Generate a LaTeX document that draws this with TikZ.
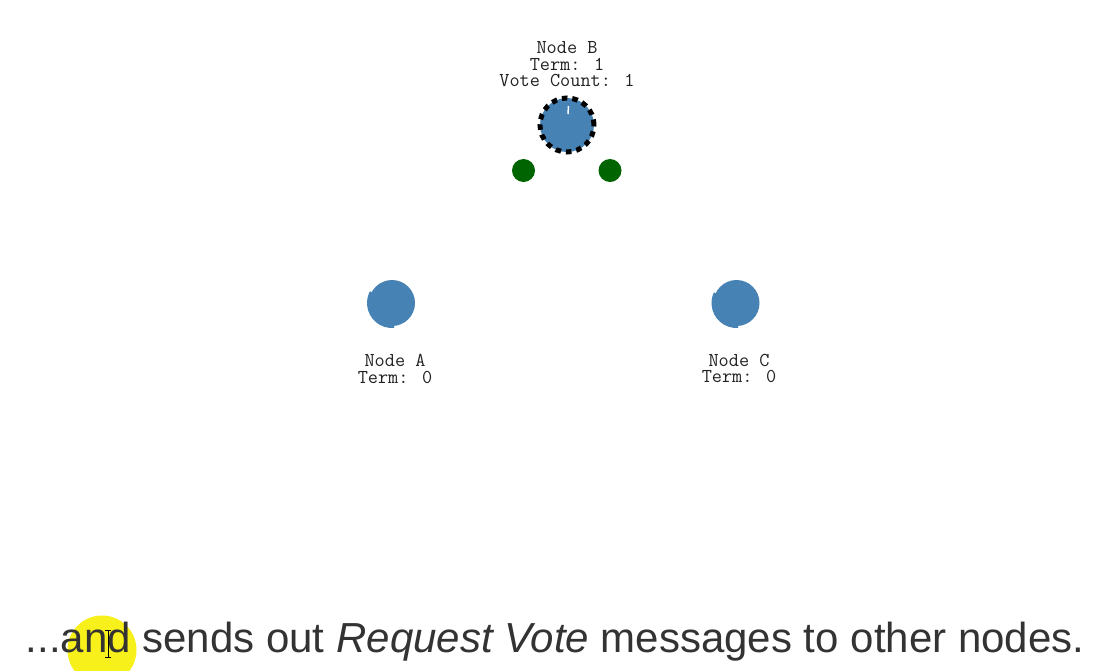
\documentclass[tikz,border=0pt]{standalone}
\usepackage{fontspec}
\newfontfamily\arialf{Liberation Sans}
\definecolor{nodeblue}{HTML}{4682B4}
\definecolor{peergreen}{HTML}{006400}
\definecolor{txt}{HTML}{222222}
\definecolor{captxt}{HTML}{333333}
\definecolor{hilite}{HTML}{F7F01A}
\tikzset{
  lbl/.style={font=\ttfamily\fontsize{19.7}{16.5}\selectfont, text=txt, align=center, inner sep=0pt},
  peer/.style={circle, fill=peergreen, draw=none, minimum size=23pt, inner sep=0pt},
  candidate/.style={circle, fill=nodeblue, draw=black, line width=5pt, dash pattern=on 5.5pt off 5pt, minimum size=54pt, inner sep=0pt},
}
\begin{document}
\begin{tikzpicture}[x=1pt,y=-1pt]
\useasboundingbox (0,0) rectangle (1105,670);
\fill[white] (0,0) rectangle (1105,670);

% Node B (candidate)
\node[candidate] (B) at (567,125) {};
\draw[white, line width=1.5pt] (568.5,106) -- (568,114);
\node[lbl, anchor=south] (Blbl) at (567,87) {Node B\\Term: 1\\Vote Count: 1};
\node[peer] (g1) at (523.5,170.5) {};
\node[peer] (g2) at (610,170.5) {};

% Node A
\coordinate (A) at (392,303);
\fill[nodeblue] (A) circle[radius=23];
\fill[nodeblue] (A) -- ++(85:25) arc[start angle=85, end angle=208, radius=25] -- cycle;
\node[lbl, anchor=north] (Albl) at (395,354) {Node A\\Term: 0};

% Node C
\coordinate (C) at (736.5,303);
\fill[nodeblue] (C) circle[radius=23];
\fill[nodeblue] (C) -- ++(86:25) arc[start angle=86, end angle=205, radius=25] -- cycle;
\node[lbl, anchor=north] (Clbl) at (739,354) {Node C\\Term: 0};

% cursor highlight
\fill[hilite] (102,650) circle[radius=34.5];

% caption
\node[font=\arialf\fontsize{42}{46}\selectfont, text=captxt, anchor=base, inner sep=0pt] (cap) at (555,652)
  {...and sends out \textit{Request Vote} messages to other nodes.};

% I-beam cursor
\draw[black, line width=0.9pt] (105,630) -- (111,630) (108,630) -- (108,657) (105,657) -- (111,657);
\end{tikzpicture}
\end{document}
